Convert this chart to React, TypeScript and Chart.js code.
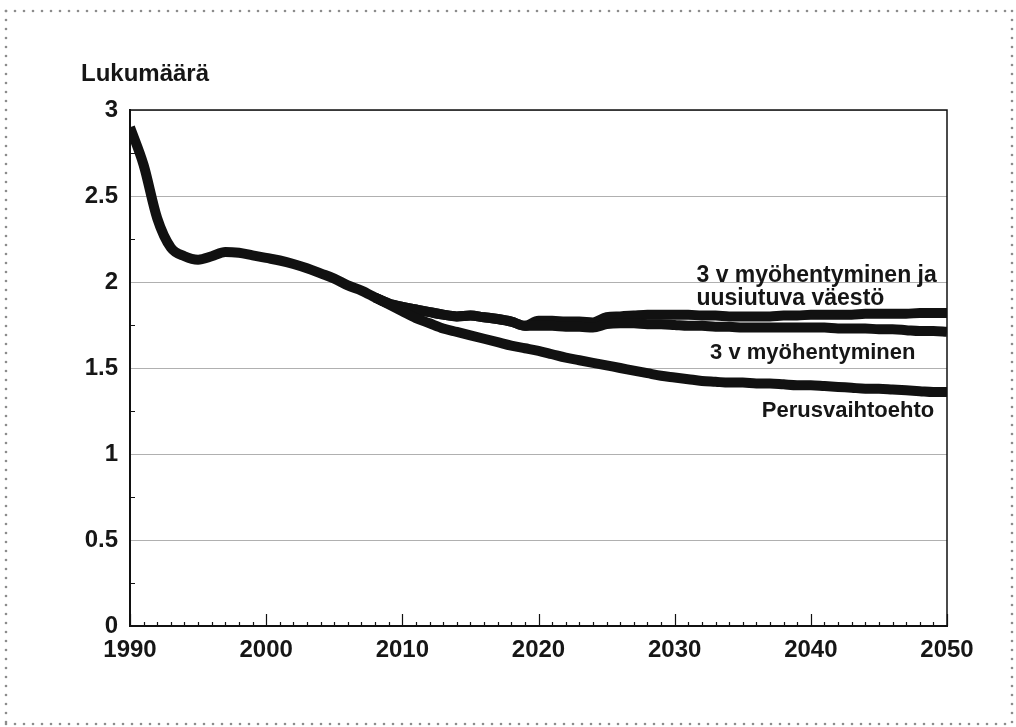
import React, { useEffect, useRef } from "react";
import { Chart, registerables } from "chart.js";

Chart.register(...registerables);

// ---- Data ----
const years = [
  1990, 1991, 1992, 1993, 1994, 1995, 1996, 1997, 1998, 1999,
  2000, 2001, 2002, 2003, 2004, 2005, 2006, 2007, 2008, 2009,
  2010, 2011, 2012, 2013, 2014, 2015, 2016, 2017, 2018, 2019,
  2020, 2021, 2022, 2023, 2024, 2025, 2026, 2027, 2028, 2029,
  2030, 2031, 2032, 2033, 2034, 2035, 2036, 2037, 2038, 2039,
  2040, 2041, 2042, 2043, 2044, 2045, 2046, 2047, 2048, 2049,
  2050,
];

// Perusvaihtoehto
const baseValues = [
  2.9, 2.68, 2.37, 2.2, 2.15, 2.13, 2.15, 2.175, 2.17, 2.155,
  2.14, 2.125, 2.105, 2.08, 2.05, 2.02, 1.98, 1.95, 1.91, 1.87,
  1.83, 1.79, 1.76, 1.73, 1.71, 1.69, 1.67, 1.65, 1.63, 1.615,
  1.6, 1.58, 1.56, 1.545, 1.53, 1.515, 1.5, 1.485, 1.47, 1.455,
  1.445, 1.435, 1.425, 1.42, 1.415, 1.415, 1.41, 1.41, 1.405, 1.4,
  1.4, 1.395, 1.39, 1.385, 1.38, 1.38, 1.375, 1.37, 1.365, 1.36,
  1.36,
];

const altYears = [
  2008, 2009, 2010, 2011, 2012, 2013, 2014, 2015, 2016, 2017,
  2018, 2019, 2020, 2021, 2022, 2023, 2024, 2025, 2026, 2027,
  2028, 2029, 2030, 2031, 2032, 2033, 2034, 2035, 2036, 2037,
  2038, 2039, 2040, 2041, 2042, 2043, 2044, 2045, 2046, 2047,
  2048, 2049, 2050,
];

// 3 v myöhentyminen ja uusiutuva väestö
const delayRenewalValues = [
  1.91, 1.875, 1.855, 1.84, 1.825, 1.81, 1.8, 1.805, 1.795, 1.785,
  1.77, 1.745, 1.775, 1.775, 1.77, 1.77, 1.765, 1.795, 1.8, 1.805,
  1.81, 1.81, 1.81, 1.81, 1.805, 1.805, 1.8, 1.8, 1.8, 1.8,
  1.805, 1.805, 1.81, 1.81, 1.81, 1.81, 1.815, 1.815, 1.815, 1.815,
  1.82, 1.82, 1.82,
];

// 3 v myöhentyminen
const delayValues = [
  1.91, 1.875, 1.855, 1.84, 1.825, 1.81, 1.8, 1.805, 1.795, 1.785,
  1.77, 1.745, 1.745, 1.745, 1.74, 1.74, 1.735, 1.755, 1.76, 1.76,
  1.755, 1.755, 1.75, 1.745, 1.745, 1.74, 1.74, 1.735, 1.735, 1.735,
  1.735, 1.735, 1.735, 1.735, 1.73, 1.73, 1.73, 1.725, 1.725, 1.72,
  1.715, 1.715, 1.71,
];

const yMinorTicks = [0.25, 0.75, 1.25, 1.75, 2.25, 2.75];
const yAxisTitle = "Lukumäärä";

const seriesLabels = [
  { text: "3 v myöhentyminen ja", year: 2031.6, value: 2.035, size: 23 },
  { text: "uusiutuva väestö", year: 2031.6, value: 1.905, size: 23 },
  { text: "3 v myöhentyminen", year: 2032.6, value: 1.585, size: 22 },
  { text: "Perusvaihtoehto", year: 2036.4, value: 1.25, size: 22 },
];

const FONT = '"Liberation Sans", Arial, Helvetica, sans-serif';
const INK = "#161616";

const decorPlugin = {
  id: "decor",
  beforeDraw(chart: any) {
    const ctx = chart.ctx;
    ctx.save();
    ctx.fillStyle = "#ffffff";
    ctx.fillRect(0, 0, chart.width, chart.height);
    // dotted page border
    ctx.fillStyle = "#8c8c8c";
    const dot = (x: number, y: number) => {
      ctx.beginPath();
      ctx.arc(x, y, 1.3, 0, Math.PI * 2);
      ctx.fill();
    };
    for (let x = 6; x <= 1012; x += 9) {
      dot(x, 11);
      dot(x, 724);
    }
    for (let y = 11; y <= 724; y += 9) {
      dot(6, y);
      dot(1012, y);
    }
    ctx.restore();
  },
  afterDraw(chart: any) {
    const ctx = chart.ctx;
    const { left, right, top, bottom } = chart.chartArea;
    const xs = chart.scales.x;
    const ys = chart.scales.y;
    ctx.save();
    // top & right frame
    ctx.strokeStyle = "#111";
    ctx.lineWidth = 1.5;
    ctx.beginPath();
    ctx.moveTo(left, top);
    ctx.lineTo(right, top);
    ctx.lineTo(right, bottom);
    ctx.stroke();
    // inner tick marks
    ctx.lineWidth = 1.2;
    ctx.beginPath();
    years.forEach((yr) => {
      const px = Math.round(xs.getPixelForValue(yr)) + 0.5;
      const len = yr % 10 === 0 ? 12 : 4;
      ctx.moveTo(px, bottom);
      ctx.lineTo(px, bottom - len);
    });
    yMinorTicks.forEach((v) => {
      const py = Math.round(ys.getPixelForValue(v)) + 0.5;
      ctx.moveTo(left, py);
      ctx.lineTo(left + 5, py);
    });
    ctx.stroke();
    // y axis title
    ctx.fillStyle = INK;
    ctx.font = `bold 24px ${FONT}`;
    ctx.textAlign = "left";
    ctx.textBaseline = "alphabetic";
    ctx.fillText(yAxisTitle, 81, 81);
    // series labels
    ctx.textBaseline = "middle";
    seriesLabels.forEach((l) => {
      ctx.font = `bold ${l.size}px ${FONT}`;
      ctx.fillText(l.text, xs.getPixelForValue(l.year), ys.getPixelForValue(l.value));
    });
    ctx.restore();
  },
};

export default function App() {
  const ref = useRef<HTMLCanvasElement | null>(null);

  useEffect(() => {
    if (!ref.current) return;
    const lineStyle = {
      borderColor: "#111",
      borderWidth: 10,
      pointRadius: 0,
      tension: 0.25,
      cubicInterpolationMode: "monotone" as const,
      borderCapStyle: "butt" as const,
      borderJoinStyle: "round" as const,
      fill: false,
    };
    const chart = new Chart(ref.current, {
      type: "line",
      data: {
        datasets: [
          {
            label: "Perusvaihtoehto",
            data: years.map((x, i) => ({ x, y: baseValues[i] })),
            ...lineStyle,
          },
          {
            label: "3 v myöhentyminen",
            data: altYears.map((x, i) => ({ x, y: delayValues[i] })),
            ...lineStyle,
          },
          {
            label: "3 v myöhentyminen ja uusiutuva väestö",
            data: altYears.map((x, i) => ({ x, y: delayRenewalValues[i] })),
            ...lineStyle,
          },
        ],
      },
      options: {
        responsive: false,
        animation: false,
        layout: { padding: { left: 0, top: 110, right: 69, bottom: 61 } },
        plugins: {
          legend: { display: false },
          tooltip: { enabled: false },
          title: { display: false },
        },
        scales: {
          x: {
            type: "linear",
            min: 1990,
            max: 2050,
            ticks: {
              stepSize: 10,
              autoSkip: false,
              maxRotation: 0,
              padding: 10,
              color: INK,
              font: { family: FONT, size: 24, weight: "bold" },
              callback: (v: any) => String(v),
            },
            grid: { display: false, drawTicks: false },
            border: { display: true, color: "#111", width: 2 },
            afterFit: (s: any) => {
              s.height = 40;
            },
          },
          y: {
            min: 0,
            max: 3,
            ticks: {
              stepSize: 0.5,
              padding: 12,
              color: INK,
              font: { family: FONT, size: 24, weight: "bold" },
              callback: (v: any) => String(v),
            },
            grid: { color: "#b0b0b0", lineWidth: 1, drawTicks: false },
            border: { display: true, color: "#111", width: 2 },
            afterFit: (s: any) => {
              s.width = 130;
            },
          },
        },
      },
      plugins: [decorPlugin],
    });
    return () => chart.destroy();
  }, []);

  return (
    <div style={{ position: "fixed", left: 0, top: 0, width: 1016, height: 727, background: "#fff" }}>
      <canvas ref={ref} width={1016} height={727} style={{ display: "block" }} />
    </div>
  );
}
